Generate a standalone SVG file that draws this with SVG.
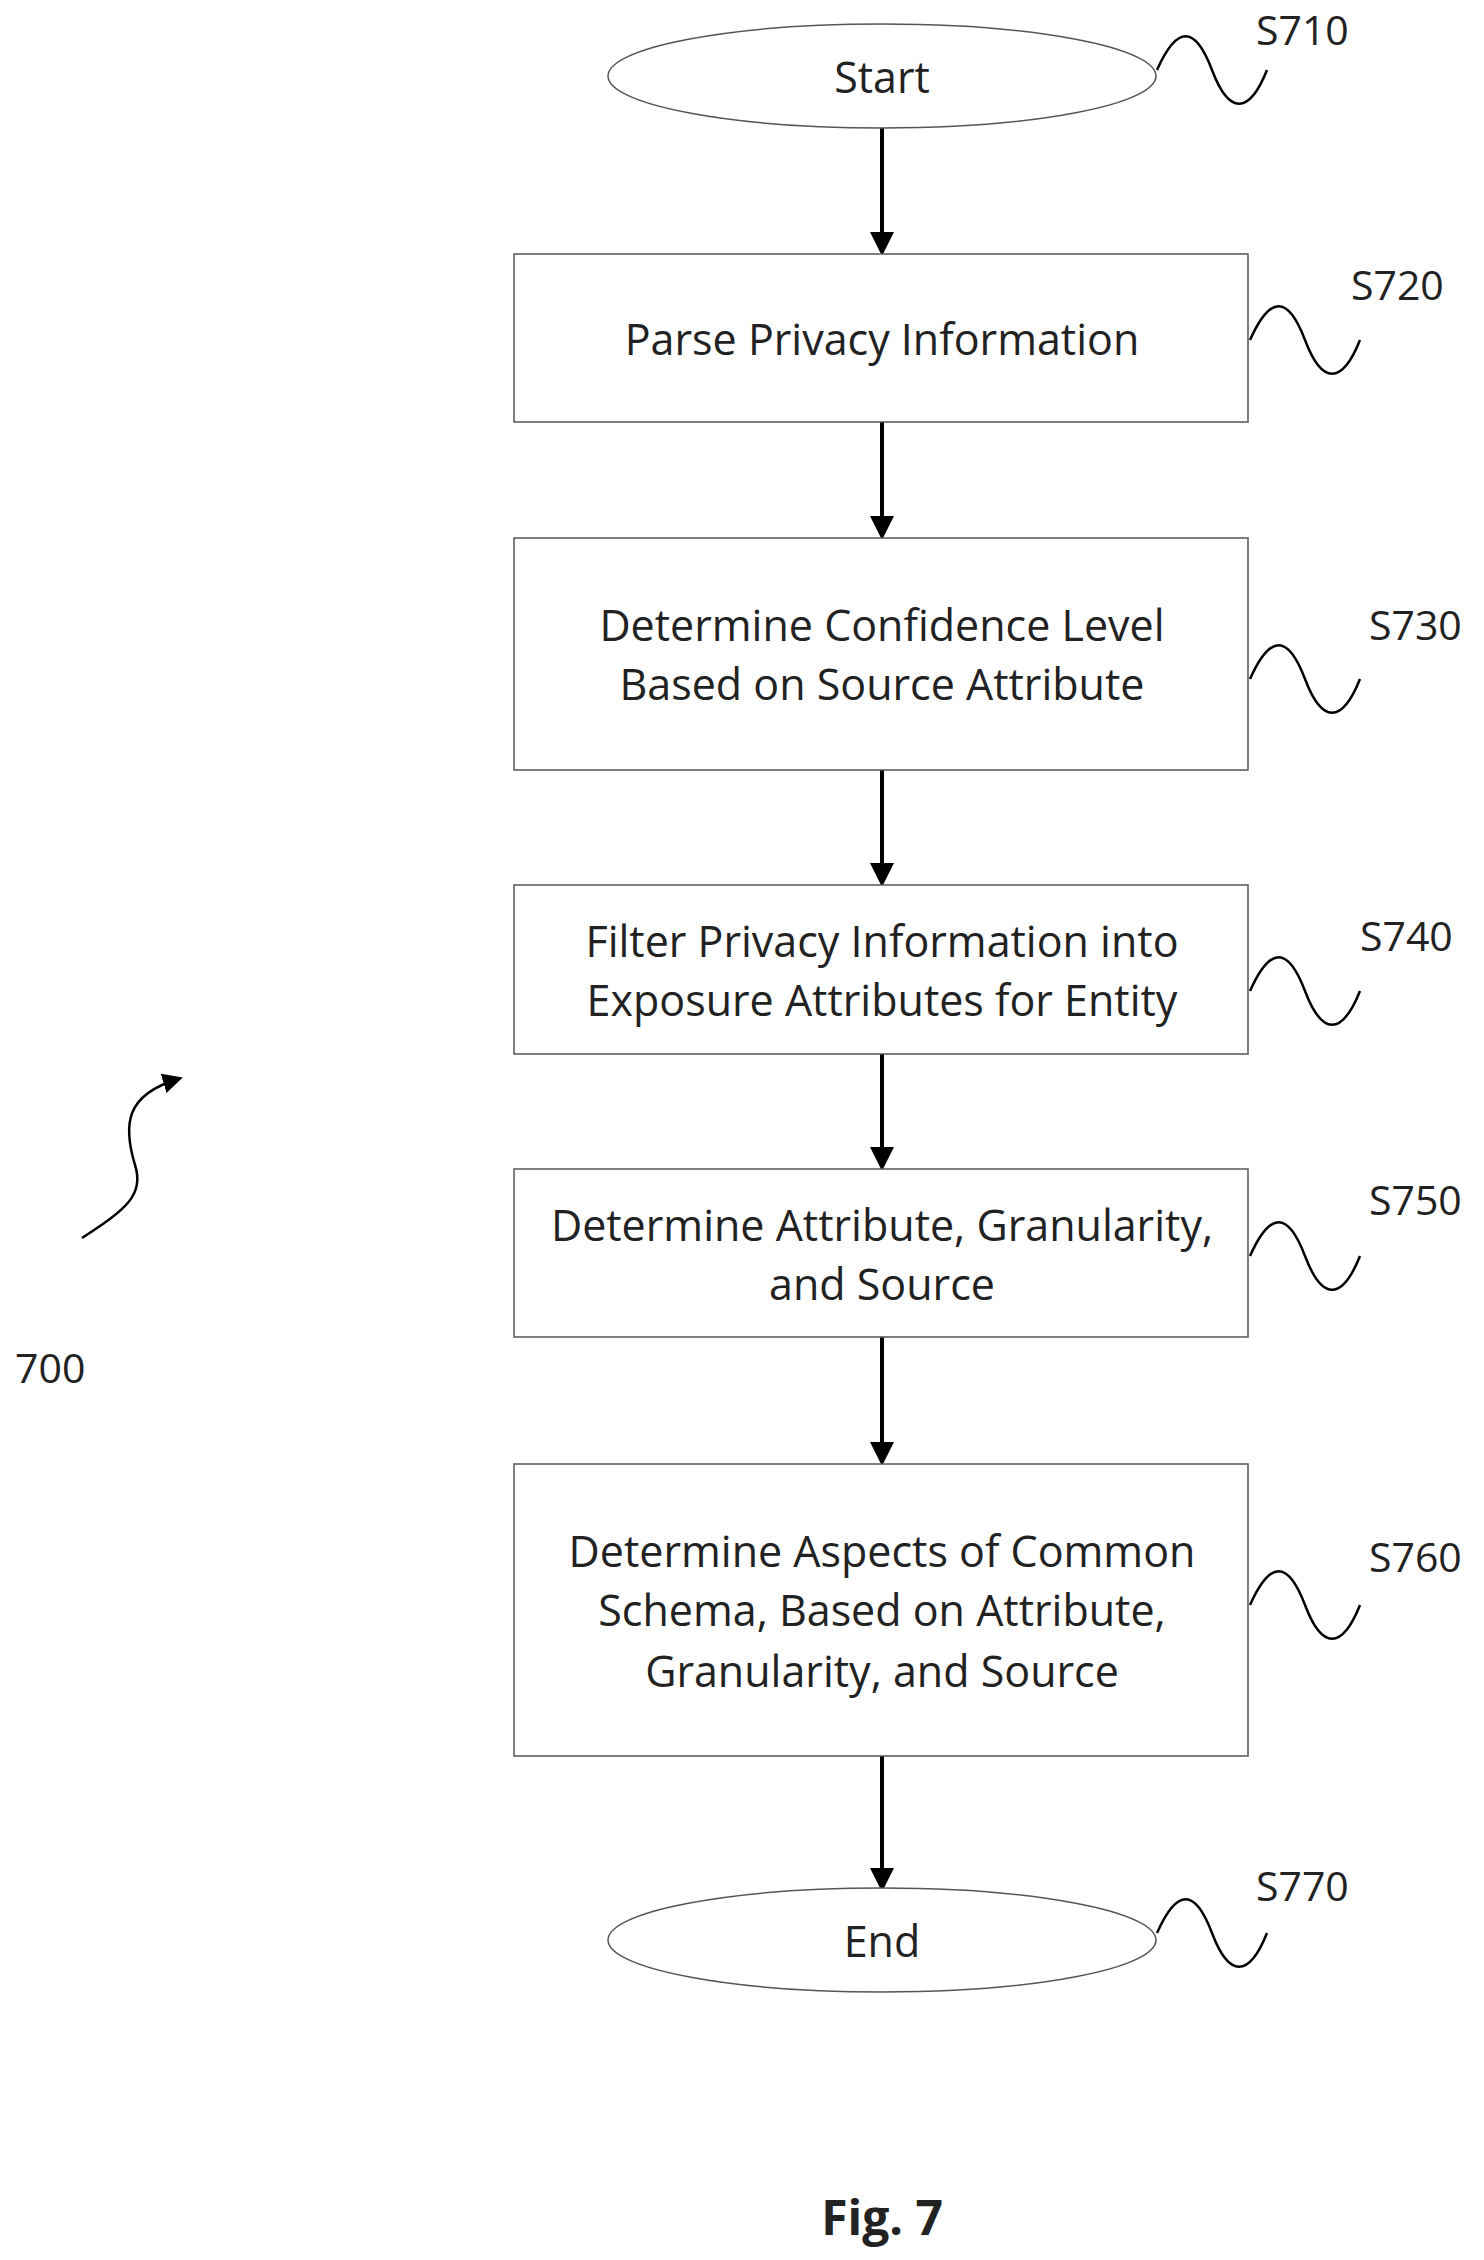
<svg xmlns="http://www.w3.org/2000/svg" width="1484" height="2260" viewBox="0 0 1484 2260">
<style>
.t{font-family:"Open Sans","Liberation Sans",sans-serif;font-size:43px;fill:#222;text-anchor:middle;dominant-baseline:central}
.l{font-family:"Open Sans","Liberation Sans",sans-serif;font-size:41px;fill:#222}
.b{fill:#fff;stroke:#555;stroke-width:1.5}
.c{stroke:#000;stroke-width:4;fill:none}
.w{stroke:#000;stroke-width:2.5;fill:none}
</style>
<defs>
<marker id="ah" markerWidth="6" markerHeight="6" refX="5" refY="3" orient="auto" markerUnits="strokeWidth"><path d="M0,0 L6,3 L0,6 z" fill="#000"/></marker>
<marker id="ah2" markerWidth="8" markerHeight="8" refX="6" refY="4" orient="auto" markerUnits="strokeWidth"><path d="M0,0 L8,4 L0,8 z" fill="#000"/></marker>
<path id="sq" d="M0,0 C20,-45 38,-45 55,0 S92,45 110,0"/>
</defs>
<rect width="1484" height="2260" fill="#fff"/>
<g transform="translate(-5,-5)">
<g id="connectors">
<line class="c" x1="887" y1="133" x2="887" y2="257" marker-end="url(#ah)"/>
<line class="c" x1="887" y1="427" x2="887" y2="541" marker-end="url(#ah)"/>
<line class="c" x1="887" y1="775" x2="887" y2="888" marker-end="url(#ah)"/>
<line class="c" x1="887" y1="1059" x2="887" y2="1172" marker-end="url(#ah)"/>
<line class="c" x1="887" y1="1342" x2="887" y2="1467" marker-end="url(#ah)"/>
<line class="c" x1="887" y1="1761" x2="887" y2="1893" marker-end="url(#ah)"/>
</g>
<g id="S710"><ellipse class="b" cx="887" cy="81" rx="274" ry="52"/><text class="t" x="887" y="81">Start</text></g>
<g id="S720"><rect class="b" x="519" y="259" width="734" height="168"/><text class="t" x="887" y="343">Parse Privacy Information</text></g>
<g id="S730"><rect class="b" x="519" y="543" width="734" height="232"/><text class="t" x="887" y="629">Determine Confidence Level</text><text class="t" x="887" y="688">Based on Source Attribute</text></g>
<g id="S740"><rect class="b" x="519" y="890" width="734" height="169"/><text class="t" x="887" y="945">Filter Privacy Information into</text><text class="t" x="887" y="1004">Exposure Attributes for Entity</text></g>
<g id="S750"><rect class="b" x="519" y="1174" width="734" height="168"/><text class="t" x="887" y="1229">Determine Attribute, Granularity,</text><text class="t" x="887" y="1288">and Source</text></g>
<g id="S760"><rect class="b" x="519" y="1469" width="734" height="292"/><text class="t" x="887" y="1555">Determine Aspects of Common</text><text class="t" x="887" y="1614">Schema, Based on Attribute,</text><text class="t" x="887" y="1675">Granularity, and Source</text></g>
<g id="S770"><ellipse class="b" cx="887" cy="1945" rx="274" ry="52"/><text class="t" x="887" y="1945">End</text></g>
<g id="labels">
<use href="#sq" class="w" x="1162" y="75"/>
<use href="#sq" class="w" x="1255" y="345"/>
<use href="#sq" class="w" x="1255" y="684"/>
<use href="#sq" class="w" x="1255" y="996"/>
<use href="#sq" class="w" x="1255" y="1261"/>
<use href="#sq" class="w" x="1255" y="1610"/>
<use href="#sq" class="w" x="1162" y="1938"/>
<text class="l" x="1261" y="50">S710</text>
<text class="l" x="1356" y="305">S720</text>
<text class="l" x="1374" y="645">S730</text>
<text class="l" x="1365" y="956">S740</text>
<text class="l" x="1374" y="1220">S750</text>
<text class="l" x="1374" y="1577">S760</text>
<text class="l" x="1261" y="1906">S770</text>
<text class="l" x="20" y="1388">700</text>
<path class="w" d="M87,1243 C130,1215 150,1200 140,1170 C128,1130 130,1100 183,1084" marker-end="url(#ah2)"/>
<text x="887" y="2221" style="font-family:'Open Sans','Liberation Sans',sans-serif;font-size:48px;font-weight:bold;text-anchor:middle;dominant-baseline:central;fill:#222">Fig. 7</text>
</g>
</g>
</svg>
